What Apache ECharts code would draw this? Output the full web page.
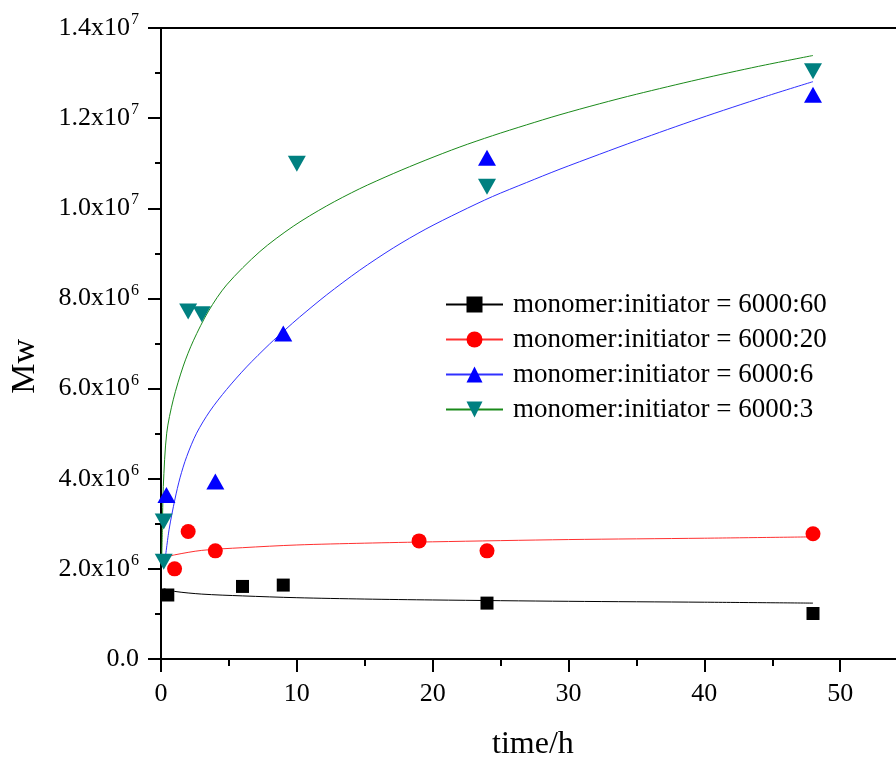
<!DOCTYPE html>
<html>
<head>
<meta charset="utf-8">
<script src="https://cdn.jsdelivr.net/npm/echarts@6/dist/echarts.min.js"></script>
<style>
  html, body { margin: 0; padding: 0; background: #fff; overflow: hidden; }
  #chart { width: 896px; height: 758px; }
</style>
</head>
<body>
<div id="chart"></div>
<script>
// Series labels
const seriesNames = [
  'monomer:initiator = 6000:60',
  'monomer:initiator = 6000:20',
  'monomer:initiator = 6000:6',
  'monomer:initiator = 6000:3'
];

// Measured Mw vs time (h)
const time60 = [0.5, 6, 9, 24, 48];
const mw60   = [1.42e6, 1.61e6, 1.64e6, 1.24e6, 1.01e6];

const time20 = [1, 2, 4, 19, 24, 48];
const mw20   = [2.00e6, 2.83e6, 2.40e6, 2.62e6, 2.40e6, 2.78e6];

const time6 = [0.4, 4, 9, 24, 48];
const mw6   = [3.64e6, 3.94e6, 7.22e6, 11.12e6, 12.52e6];

const time3 = [0.2, 0.2, 2, 3, 10, 24, 48];
const mw3   = [2.16e6, 3.05e6, 7.71e6, 7.65e6, 10.99e6, 10.48e6, 13.04e6];

// Fitted curves
const fitTime60 = [0.2, 1, 3, 6, 10, 15, 20, 30, 40, 48];
const fitMw60   = [1.56e6, 1.50e6, 1.44e6, 1.40e6, 1.36e6, 1.33e6, 1.31e6, 1.28e6, 1.26e6, 1.24e6];

const fitTime20 = [0.3, 1, 3, 6, 10, 15, 20, 30, 40, 48];
const fitMw20   = [2.25e6, 2.31e6, 2.41e6, 2.47e6, 2.53e6, 2.57e6, 2.60e6, 2.65e6, 2.68e6, 2.71e6];

const fitTime6 = [0.3, 0.6, 1.03, 1.4, 1.89, 2.62, 3.6, 4.83, 6.3, 8.0, 9.2, 10.2, 12.2, 14.6, 17.1, 19.5, 22, 24.4, 26.9, 29.3, 32.3, 35, 39.6, 44.5, 48];
const fitMw6   = [2.2e6, 2.88e6, 3.55e6, 4.02e6, 4.49e6, 5.01e6, 5.50e6, 5.98e6, 6.48e6, 6.99e6, 7.32e6, 7.585e6, 8.08e6, 8.62e6, 9.12e6, 9.54e6, 9.92e6, 10.26e6, 10.57e6, 10.86e6, 11.2e6, 11.5e6, 11.99e6, 12.48e6, 12.81e6];

const fitTime3 = [0.05, 0.1, 0.17, 0.42, 0.9, 1.64, 2.38, 3.5, 4.83, 7.28, 9.73, 12.18, 14.6, 17.1, 19.5, 22, 24.4, 26.9, 29.3, 32.3, 35, 39.6, 44, 48];
const fitMw3   = [2.2e6, 2.9e6, 3.83e6, 5.01e6, 5.75e6, 6.50e6, 7.06e6, 7.72e6, 8.30e6, 9.04e6, 9.60e6, 10.05e6, 10.43e6, 10.77e6, 11.07e6, 11.36e6, 11.61e6, 11.85e6, 12.07e6, 12.32e6, 12.53e6, 12.86e6, 13.15e6, 13.39e6];

// Axis tick labels (mantissa, exponent)
const yTickValues = [0, 2e6, 4e6, 6e6, 8e6, 1e7, 1.2e7, 1.4e7];
const yTickMantissa = ['0.0', '2.0', '4.0', '6.0', '8.0', '1.0', '1.2', '1.4'];
const yTickExponent = ['', '6', '6', '6', '6', '7', '7', '7'];
const xTickLabels = ['0', '10', '20', '30', '40', '50'];

const markerColors = ['#000000', '#ff0000', '#0000ff', '#008080'];
const lineColors   = ['#000000', '#ff3030', '#3030ff', '#1a8a1a'];
const downTriangle = 'path://M0,0 L10,0 L5,10 Z';
const symbols = ['rect', 'circle', 'triangle', downTriangle];
const symbolSizes = [13, 15, [18, 16], [18, 16]];

const fits = [
  [fitTime60, fitMw60], [fitTime20, fitMw20], [fitTime6, fitMw6], [fitTime3, fitMw3]
];
const points = [
  [time60, mw60], [time20, mw20], [time6, mw6], [time3, mw3]
];
const zip = (a, b) => a.map((v, i) => [v, b[i]]);

const serif = 'Liberation Serif';
const series = [];
seriesNames.forEach((name, i) => {
  series.push({
    name: name,
    type: 'line',
    data: zip(fits[i][0], fits[i][1]),
    smooth: 0.3,
    symbol: symbols[i],
    symbolSize: symbolSizes[i],
    showSymbol: false,
    lineStyle: { color: lineColors[i], width: 1 },
    itemStyle: { color: markerColors[i] },
    emphasis: { disabled: true },
    silent: true,
    z: 2
  });
});
seriesNames.forEach((name, i) => {
  series.push({
    name: name,
    type: 'scatter',
    data: zip(points[i][0], points[i][1]),
    symbol: symbols[i],
    symbolSize: symbolSizes[i],
    itemStyle: { color: markerColors[i], opacity: 1 },
    emphasis: { disabled: true },
    silent: true,
    z: 3
  });
});

const chart = echarts.init(document.getElementById('chart'), null, { renderer: 'canvas' });
chart.setOption({
  animation: false,
  backgroundColor: '#ffffff',
  // plot area runs past the right edge of the canvas (axis max 60)
  grid: { left: 161, top: 28, width: 815, height: 631, containLabel: false, outerBoundsMode: 'none' },
  xAxis: [{
    type: 'value',
    min: 0, max: 60, interval: 10,
    axisLine: { show: true, onZero: false, lineStyle: { color: '#000', width: 2 } },
    axisTick: { show: true, inside: false, length: 13, lineStyle: { color: '#000', width: 2 } },
    minorTick: { show: true, splitNumber: 2, length: 7, lineStyle: { color: '#000', width: 2 } },
    splitLine: { show: false },
    axisLabel: {
      margin: 22,
      fontFamily: serif, fontSize: 26, color: '#000',
      formatter: v => { const k = Math.round(v / 10); return (v % 10 === 0 && k < xTickLabels.length) ? xTickLabels[k] : ''; }
    }
  }, {
    type: 'value', position: 'top',
    min: 0, max: 60,
    axisLine: { show: true, onZero: false, lineStyle: { color: '#000', width: 2 } },
    axisTick: { show: false }, axisLabel: { show: false }, splitLine: { show: false }
  }],
  yAxis: {
    type: 'value',
    min: 0, max: 1.4e7, interval: 2e6,
    axisLine: { show: true, onZero: false, lineStyle: { color: '#000', width: 2 } },
    axisTick: { show: true, inside: false, length: 13, lineStyle: { color: '#000', width: 2 } },
    minorTick: { show: true, splitNumber: 2, length: 6, lineStyle: { color: '#000', width: 2 } },
    splitLine: { show: false },
    axisLabel: {
      margin: 22,
      formatter: v => {
        const i = yTickValues.findIndex(t => Math.abs(t - v) < 1);
        if (i < 0) return '';
        if (!yTickExponent[i]) return '{m|' + yTickMantissa[i] + '}';
        return '{m|' + yTickMantissa[i] + 'x10}{e|' + yTickExponent[i] + '}';
      },
      rich: {
        m: { fontFamily: serif, fontSize: 26, color: '#000' },
        e: { fontFamily: serif, fontSize: 16, color: '#000', padding: [0, 0, 16, 1] }
      }
    }
  },
  legend: {
    orient: 'vertical',
    left: 445, top: 291,
    padding: 0,
    itemWidth: 57, itemHeight: 20, itemGap: 8,
    data: seriesNames,
    textStyle: { fontFamily: serif, fontSize: 27, lineHeight: 24, color: '#000', padding: [0, 0, 0, 5] },
    selectedMode: false
  },
  graphic: [
    { type: 'text', left: 8, top: 339, rotation: Math.PI / 2,
      style: { text: 'Mw', font: '34px "Liberation Serif"', fill: '#000' } },
    { type: 'text', left: 492, top: 729,
      style: { text: 'time/h', font: '32px "Liberation Serif"', fill: '#000' } }
  ],
  series: series
});
</script>
</body>
</html>
